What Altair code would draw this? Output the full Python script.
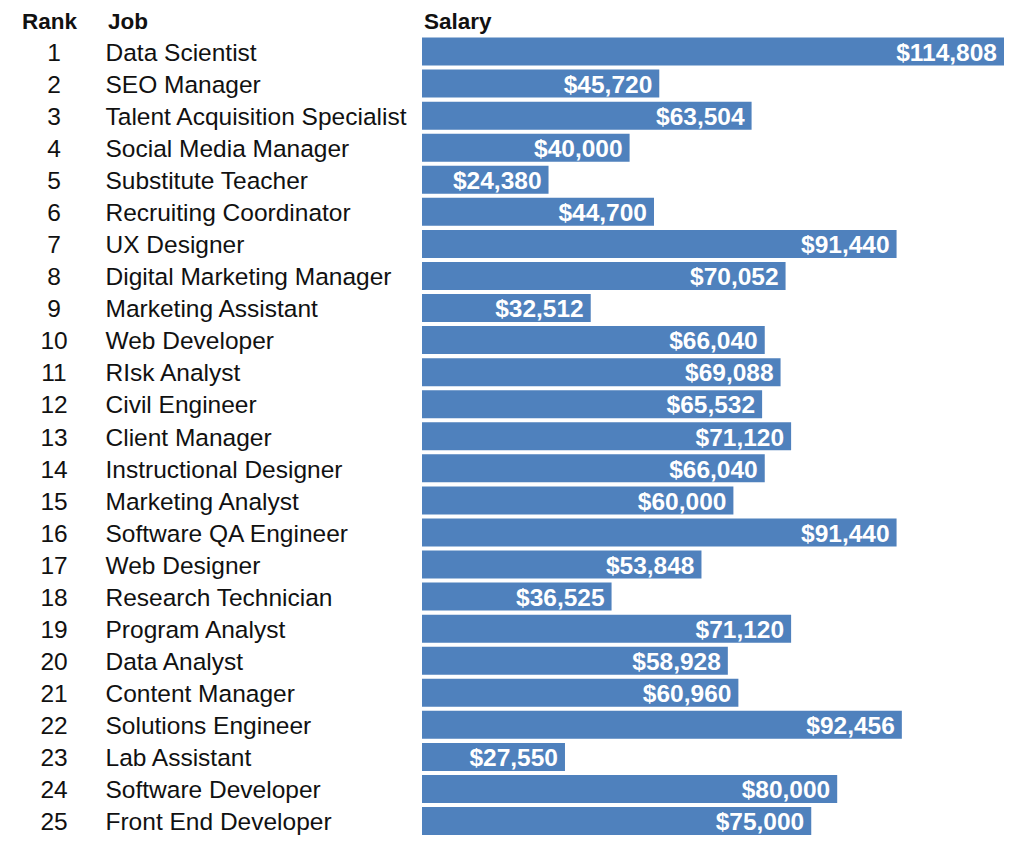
import altair as alt
import pandas as pd

ranks = list(range(1, 26))
jobs = [
    "Data Scientist", "SEO Manager", "Talent Acquisition Specialist",
    "Social Media Manager", "Substitute Teacher", "Recruiting Coordinator",
    "UX Designer", "Digital Marketing Manager", "Marketing Assistant",
    "Web Developer", "RIsk Analyst", "Civil Engineer", "Client Manager",
    "Instructional Designer", "Marketing Analyst", "Software QA Engineer",
    "Web Designer", "Research Technician", "Program Analyst", "Data Analyst",
    "Content Manager", "Solutions Engineer", "Lab Assistant",
    "Software Developer", "Front End Developer",
]
salaries = [
    114808, 45720, 63504, 40000, 24380, 44700, 91440, 70052, 32512, 66040,
    69088, 65532, 71120, 66040, 60000, 91440, 53848, 36525, 71120, 58928,
    60960, 92456, 27550, 80000, 75000,
]
headers = ["Rank", "Job", "Salary"]

df = pd.DataFrame({"rank": ranks, "job": jobs, "salary": salaries})

W, H = 996, 828
FIRST, LAST = 43.5, 813.0
STEP = (LAST - FIRST) / 24
y0 = 1 - FIRST / STEP
y1 = y0 + H / STEP

yscale = alt.Scale(domain=[y0, y1], reverse=True, nice=False, zero=False, padding=0)
xscale = alt.Scale(domain=[0, 112139], range=[414, 996], clamp=True, nice=False, padding=0)

FONT = "Liberation Sans"
base = alt.Chart(df)

bars = base.mark_bar(orient="horizontal", size=28, color="#4F81BD").encode(
    x=alt.X("salary:Q", scale=xscale, axis=None),
    y=alt.Y("rank:Q", scale=yscale, axis=None),
)

labels = base.mark_text(
    align="right", baseline="alphabetic", dx=-7, dy=9.3,
    font=FONT, fontSize=24.5, fontWeight="bold", color="white",
).encode(
    x=alt.X("salary:Q", scale=xscale, axis=None),
    y=alt.Y("rank:Q", scale=yscale, axis=None),
    text=alt.Text("salary:Q", format="$,.0f"),
)

rank_text = base.mark_text(
    align="center", baseline="alphabetic", dy=9.3,
    font=FONT, fontSize=24.5, color="#111111",
).encode(
    x=alt.value(46),
    y=alt.Y("rank:Q", scale=yscale, axis=None),
    text="rank:Q",
)

job_text = base.mark_text(
    align="left", baseline="alphabetic", dy=9.3,
    font=FONT, fontSize=24.5, color="#111111",
).encode(
    x=alt.value(97.5),
    y=alt.Y("rank:Q", scale=yscale, axis=None),
    text="job:N",
)

def header(label, xpos):
    return alt.Chart(pd.DataFrame({"h": [label]})).mark_text(
        align="left", baseline="alphabetic",
        font=FONT, fontSize=22.5, fontWeight="bold", color="#111111",
    ).encode(x=alt.value(xpos), y=alt.value(20.8), text="h:N")

chart = alt.layer(
    bars, labels, rank_text, job_text,
    header(headers[0], 14), header(headers[1], 100), header(headers[2], 416),
).properties(
    width=W, height=H, padding=0,
    autosize=alt.AutoSizeParams(type="none"),
    background="white",
).configure_view(stroke=None)

chart.save("out.html", embed_options={"renderer": "svg", "actions": False})
